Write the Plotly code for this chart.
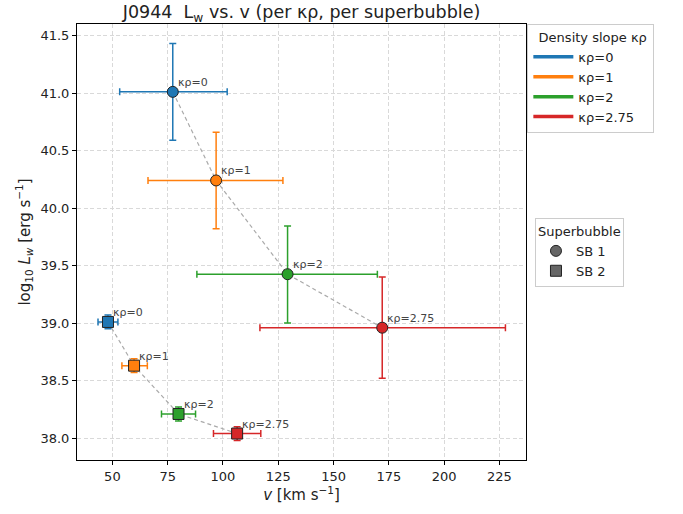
import plotly.graph_objects as go

# Density slopes and colours
kappa_labels = ["κρ=0", "κρ=1", "κρ=2", "κρ=2.75"]
colors = ["#1f77b4", "#ff7f0e", "#2ca02c", "#d62728"]

# Superbubble 1: velocity [km/s] with bounds, log10 L_w with bounds
sb1_v = [77.3, 96.9, 129.2, 172.0]
sb1_v_lo = [53.3, 66.1, 88.2, 116.7]
sb1_v_hi = [101.9, 127.1, 169.8, 227.7]
sb1_L = [41.01, 40.24, 39.425, 38.96]
sb1_L_lo = [40.59, 39.82, 39.00, 38.52]
sb1_L_hi = [41.43, 40.66, 39.845, 39.40]

# Superbubble 2
sb2_v = [48.0, 59.8, 79.9, 106.4]
sb2_v_lo = [43.5, 54.3, 72.2, 95.7]
sb2_v_hi = [52.5, 65.8, 87.6, 117.1]
sb2_L = [39.01, 38.63, 38.21, 38.04]
sb2_L_lo = [38.95, 38.57, 38.15, 37.98]
sb2_L_hi = [39.07, 38.69, 38.27, 38.10]

x_ticks = [50, 75, 100, 125, 150, 175, 200, 225]
y_ticks = [38.0, 38.5, 39.0, 39.5, 40.0, 40.5, 41.0, 41.5]

fig = go.Figure()

# Dashed connectors through each superbubble's sequence
for vs, Ls in [(sb1_v, sb1_L), (sb2_v, sb2_L)]:
    fig.add_trace(go.Scatter(
        x=vs, y=Ls, mode="lines",
        line=dict(color="#aaaaaa", width=1.2, dash="4px,3px"),
        showlegend=False, hoverinfo="skip"))

for vs, vlo, vhi, Ls, Llo, Lhi, symbol, msize in [
    (sb1_v, sb1_v_lo, sb1_v_hi, sb1_L, sb1_L_lo, sb1_L_hi, "circle", 11),
    (sb2_v, sb2_v_lo, sb2_v_hi, sb2_L, sb2_L_lo, sb2_L_hi, "square", 11),
]:
    for i in range(len(vs)):
        fig.add_trace(go.Scatter(
            x=[vs[i]], y=[Ls[i]], mode="markers",
            marker=dict(symbol=symbol, size=msize, color=colors[i],
                        line=dict(color="#222222", width=1)),
            error_x=dict(type="data", symmetric=False,
                         array=[vhi[i] - vs[i]], arrayminus=[vs[i] - vlo[i]],
                         color=colors[i], thickness=1.5, width=3.5),
            error_y=dict(type="data", symmetric=False,
                         array=[Lhi[i] - Ls[i]], arrayminus=[Ls[i] - Llo[i]],
                         color=colors[i], thickness=1.5, width=3.5),
            showlegend=False, hoverinfo="skip"))
        fig.add_annotation(
            x=vs[i], y=Ls[i], text=kappa_labels[i], showarrow=False,
            xanchor="left", yanchor="bottom", xshift=3, yshift=1,
            font=dict(size=11, color="#444444", family="DejaVu Sans"))

# Legend: density slope (coloured lines)
for i in range(len(kappa_labels)):
    fig.add_trace(go.Scatter(
        x=[None], y=[None], mode="lines", name=kappa_labels[i],
        line=dict(color=colors[i], width=3.5), legend="legend"))

# Legend: superbubble (marker shapes)
for name, symbol in [("SB 1", "circle"), ("SB 2", "square")]:
    fig.add_trace(go.Scatter(
        x=[None], y=[None], mode="markers", name=name,
        marker=dict(symbol=symbol, size=11, color="#666666",
                    line=dict(color="#222222", width=1)),
        legend="legend2"))

axis_common = dict(
    showline=True, linecolor="black", linewidth=1, mirror=True,
    ticks="outside", ticklen=4, tickcolor="black",
    showgrid=True, gridcolor="#d9d9d9", griddash="4px,2.5px", gridwidth=1,
    zeroline=False, tickfont=dict(size=13, family="DejaVu Sans", color="#222222"),
)

fig.update_layout(
    width=683, height=514,
    margin=dict(l=77, r=157, t=24, b=54),
    paper_bgcolor="white", plot_bgcolor="white",
    font=dict(family="DejaVu Sans", color="#222222"),
    title=dict(text="J0944  L<sub>w</sub> vs. v (per κρ, per superbubble)",
               x=301.5 / 683, xanchor="center",
               y=0.988, yanchor="top",
               font=dict(size=17.5, family="DejaVu Sans", color="#222222")),
    xaxis=dict(axis_common, range=[34.0, 237.0], tickvals=x_ticks,
               title=dict(text="<i>v</i> [km s<sup>−1</sup>]", standoff=4,
                          font=dict(size=15, family="DejaVu Sans"))),
    yaxis=dict(axis_common, range=[37.81, 41.60], tickvals=y_ticks,
               tickformat=".1f",
               title=dict(text="log<sub>10</sub> <i>L<sub>w</sub></i> [erg s<sup>−1</sup>]",
                          standoff=6, font=dict(size=15, family="DejaVu Sans"))),
    legend=dict(
        title=dict(text="  Density slope κρ ", font=dict(size=13)),
        x=1.003, y=1.0, xanchor="left", yanchor="top",
        bordercolor="#cccccc", borderwidth=1, bgcolor="white",
        font=dict(size=13, family="DejaVu Sans"), itemwidth=40),
    legend2=dict(
        title=dict(text="Superbubble", font=dict(size=13)),
        x=1.02, y=0.555, xanchor="left", yanchor="top",
        bordercolor="#cccccc", borderwidth=1, bgcolor="white",
        font=dict(size=13, family="DejaVu Sans"), itemwidth=30),
)

fig.write_html("out.html")
